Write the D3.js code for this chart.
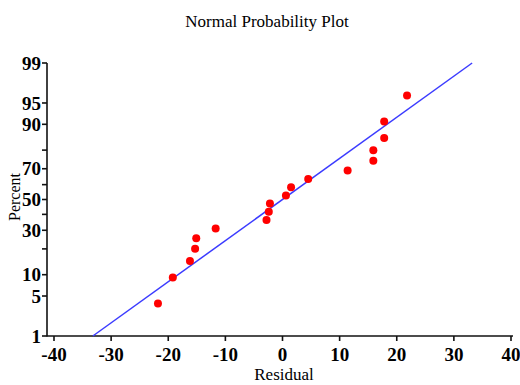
<!DOCTYPE html>
<html lang="en">
  <head>
    <meta charset="UTF-8" />
    <title>Normal Probability Plot</title>
    <script src="https://d3js.org/d3.v7.min.js"></script>
  </head>
  <style>
    html,
    body {
      margin: 0;
      padding: 0;
      background: #fff;
    }
    svg text {
      font-family: "Liberation Serif", "Times New Roman", serif;
    }
  </style>
  <body>
    <script>
      // residuals (sorted) and their plotted percent
      var residuals = [-21.8, -19.2, -16.2, -15.3, -15.1, -11.7, -2.8, -2.4, -2.2,
                       0.6, 1.5, 4.5, 11.4, 15.9, 15.9, 17.8, 17.8, 21.8];
      var percents = [3.8, 9.2, 14.7, 20.1, 25.5, 31.0, 36.4, 41.8, 47.3,
                      52.7, 58.2, 63.6, 69.0, 74.5, 79.9, 85.3, 90.8, 96.2];
      // fitted line end points (residual, percent)
      var fitX = [-33.2, 33.2];
      var fitP = [1, 99];
      var xTicks = [-40, -30, -20, -10, 0, 10, 20, 30, 40];
      var yTicks = [1, 5, 10, 30, 50, 70, 90, 95, 99];
      var yMinor = [20, 40, 60, 80];

      // inverse normal cdf (Acklam)
      function probit(p) {
        var a = [-39.69683028665376, 220.9460984245205, -275.9285104469687, 138.357751867269, -30.66479806614716, 2.506628277459239];
        var b = [-54.47609879822406, 161.5858368580409, -155.6989798598866, 66.80131188771972, -13.28068155288572];
        var c = [-0.007784894002430293, -0.3223964580411365, -2.400758277161838, -2.549732539343734, 4.374664141464968, 2.938163982698783];
        var d = [0.007784695709041462, 0.3224671290700398, 2.445134137142996, 3.754408661907416];
        var q, r;
        if (p < 0.02425) {
          q = Math.sqrt(-2 * Math.log(p));
          return (((((c[0]*q+c[1])*q+c[2])*q+c[3])*q+c[4])*q+c[5]) / ((((d[0]*q+d[1])*q+d[2])*q+d[3])*q+1);
        } else if (p > 1 - 0.02425) {
          q = Math.sqrt(-2 * Math.log(1 - p));
          return -(((((c[0]*q+c[1])*q+c[2])*q+c[3])*q+c[4])*q+c[5]) / ((((d[0]*q+d[1])*q+d[2])*q+d[3])*q+1);
        }
        q = p - 0.5;
        r = q * q;
        return (((((a[0]*r+a[1])*r+a[2])*r+a[3])*r+a[4])*r+a[5])*q / (((((b[0]*r+b[1])*r+b[2])*r+b[3])*r+b[4])*r+1);
      }

      var width = 520, height = 385;
      var svg = d3.select("body").append("svg")
        .attr("width", width)
        .attr("height", height);

      var x = d3.scaleLinear().domain([-40, 40]).range([54, 511]);
      var zScale = d3.scaleLinear().domain([probit(0.01), probit(0.99)]).range([336, 63]);
      var y = function (p) { return zScale(probit(p / 100)); };

      // title
      svg.append("text")
        .attr("x", 267).attr("y", 27)
        .attr("text-anchor", "middle")
        .attr("font-size", 17)
        .text("Normal Probability Plot");

      // axes
      var axisG = svg.append("g").attr("stroke", "#111").attr("stroke-width", 1.6);
      axisG.append("line").attr("x1", 47).attr("x2", 47).attr("y1", y(99)).attr("y2", 336.5);
      axisG.append("line").attr("x1", 47).attr("x2", 513).attr("y1", 336).attr("y2", 336);

      axisG.selectAll(".xt").data(xTicks).enter().append("line")
        .attr("x1", function (d) { return x(d); })
        .attr("x2", function (d) { return x(d); })
        .attr("y1", 336).attr("y2", 341);

      axisG.selectAll(".yt").data(yTicks.concat(yMinor)).enter().append("line")
        .attr("x1", 42).attr("x2", 47)
        .attr("y1", function (d) { return y(d); })
        .attr("y2", function (d) { return y(d); });

      svg.selectAll(".xl").data(xTicks).enter().append("text")
        .attr("x", function (d) { return x(d); })
        .attr("y", 361)
        .attr("text-anchor", "middle")
        .attr("font-size", 19)
        .attr("font-weight", "bold")
        .text(function (d) { return d; });

      svg.selectAll(".yl").data(yTicks).enter().append("text")
        .attr("x", 41)
        .attr("y", function (d) { return y(d); })
        .attr("dy", "0.35em")
        .attr("text-anchor", "end")
        .attr("font-size", 19)
        .attr("font-weight", "bold")
        .text(function (d) { return d; });

      svg.append("text")
        .attr("x", 284).attr("y", 380)
        .attr("text-anchor", "middle")
        .attr("font-size", 17)
        .text("Residual");

      svg.append("text")
        .attr("transform", "translate(20,197) rotate(-90)")
        .attr("text-anchor", "middle")
        .attr("font-size", 16)
        .text("Percent");

      // fitted line
      svg.append("line")
        .attr("x1", x(fitX[0])).attr("y1", y(fitP[0]))
        .attr("x2", x(fitX[1])).attr("y2", y(fitP[1]))
        .attr("stroke", "#3b3bff")
        .attr("stroke-width", 1.5);

      svg.selectAll("circle").data(residuals).enter().append("circle")
        .attr("cx", function (d) { return x(d); })
        .attr("cy", function (d, i) { return y(percents[i]); })
        .attr("r", 4)
        .attr("fill", "#ff0000");
    </script>
  </body>
</html>
